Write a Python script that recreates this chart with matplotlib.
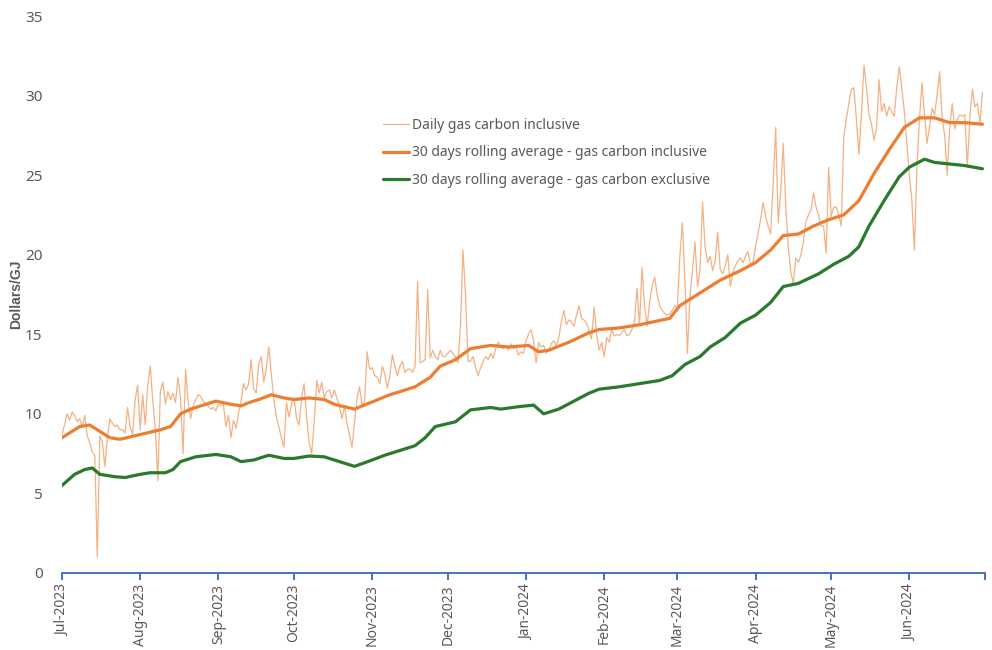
import matplotlib
matplotlib.use("Agg")
import matplotlib.pyplot as plt
import pandas as pd

plt.rcParams["font.family"] = ["Noto Sans", "DejaVu Sans"]

# Daily gas price, carbon inclusive ($/GJ), 1 Jul 2023 - 30 Jun 2024
daily_jul = [8.7, 9.3, 10.0, 9.6, 10.1, 9.9, 9.5, 9.7, 9.2, 9.9, 8.6, 8.2, 7.6, 7.4, 1.0, 8.6,
             8.2, 6.7, 8.5, 9.7, 9.4, 9.2, 9.3, 9.0, 9.0, 8.8, 10.4, 9.2, 8.7, 10.9, 11.8]
daily_aug = [9.0, 11.2, 9.3, 11.8, 13.0, 10.8, 9.0, 5.8, 11.4, 12.0, 10.6, 11.4, 10.9, 11.3, 10.7,
             12.3, 11.0, 7.5, 12.8, 10.8, 9.7, 10.5, 10.9, 11.2, 11.1, 10.8, 10.6, 10.5, 10.3,
             10.4, 10.2]
daily_sep = [10.6, 10.5, 10.6, 9.2, 9.9, 8.5, 9.6, 9.1, 10.0, 10.8, 11.9, 11.5, 11.9, 13.4, 11.6,
             11.3, 13.1, 13.6, 12.0, 12.8, 14.2, 12.5, 10.9, 9.8, 9.2, 8.5, 7.9, 10.7, 9.8, 10.6]
daily_oct = [11.0, 9.7, 9.3, 11.0, 11.9, 9.8, 8.2, 7.5, 9.5, 12.1, 11.3, 12.0, 11.0, 11.4, 11.5,
             11.0, 11.5, 11.0, 10.5, 9.7, 10.5, 9.4, 8.7, 7.9, 9.5, 11.0, 11.7, 10.5, 10.8, 13.9,
             12.8]
daily_nov = [12.9, 12.4, 12.3, 11.9, 13.0, 12.5, 11.6, 12.4, 13.7, 13.0, 12.4, 13.0, 13.3, 12.6,
             12.8, 12.8, 12.6, 13.0, 18.3, 13.2, 13.3, 13.4, 17.8, 13.5, 14.0, 13.6, 13.4, 14.0,
             13.6, 13.6]
daily_dec = [13.8, 14.0, 13.8, 13.6, 13.2, 15.5, 20.3, 17.5, 13.3, 13.3, 13.6, 12.9, 12.4, 12.9,
             13.3, 13.6, 13.4, 13.8, 13.5, 14.1, 14.5, 14.2, 14.1, 14.3, 14.0, 14.4, 14.1, 14.2,
             13.7, 13.9, 13.8]
daily_jan = [14.6, 15.0, 15.3, 14.6, 13.2, 14.5, 14.2, 14.3, 13.8, 14.0, 14.4, 14.6, 14.3, 14.8,
             15.8, 16.5, 15.6, 15.9, 15.8, 15.5, 16.2, 16.8, 16.0, 15.9, 15.7, 15.2, 14.7, 16.7,
             15.0, 14.0, 14.5]
daily_feb = [13.6, 14.8, 14.5, 15.3, 14.9, 15.0, 14.9, 15.1, 15.3, 14.9, 15.0, 15.3, 15.8, 17.9,
             15.6, 19.2, 16.8, 15.5, 17.0, 18.0, 18.6, 17.5, 16.8, 16.5, 16.3, 16.2, 16.3, 16.5,
             16.8]
daily_mar = [16.6, 19.9, 22.0, 18.5, 13.8, 17.4, 19.0, 20.8, 18.0, 19.0, 23.3, 20.5, 19.5, 19.9,
             19.0, 19.6, 21.4, 19.1, 18.8, 19.3, 20.0, 18.0, 18.9, 19.3, 19.6, 19.8, 19.5, 19.9,
             20.2, 19.4, 19.5]
daily_apr = [20.5, 21.3, 22.2, 23.3, 22.4, 21.8, 21.3, 24.5, 28.0, 22.0, 24.0, 27.0, 23.0, 20.5,
             18.9, 18.2, 19.8, 19.5, 20.0, 20.8, 22.1, 22.5, 22.8, 23.9, 23.0, 22.5, 21.8, 21.8,
             20.1, 25.5]
daily_may = [22.4, 23.0, 23.0, 22.5, 21.8, 27.4, 28.5, 29.5, 30.4, 30.5, 28.5, 26.3, 28.8, 31.9,
             30.5, 28.8, 28.2, 27.2, 28.0, 31.0, 29.0, 29.5, 28.7, 29.3, 29.0, 28.7, 30.5, 31.8,
             30.5, 29.0, 27.0]
daily_jun = [25.0, 23.4, 20.3, 25.5, 28.5, 30.8, 28.8, 27.0, 28.0, 29.2, 28.8, 30.0, 31.5, 28.6,
             27.5, 25.0, 28.0, 29.5, 27.9, 28.5, 28.8, 28.7, 28.8, 25.5, 28.6, 30.4, 29.3, 29.5,
             28.3, 30.2]

daily_values = (daily_jul + daily_aug + daily_sep + daily_oct + daily_nov + daily_dec +
                daily_jan + daily_feb + daily_mar + daily_apr + daily_may + daily_jun)
daily_dates = pd.date_range("2023-07-01", "2024-06-30", freq="D")

# 30 day rolling average, carbon inclusive
incl_dates = ["2023-07-01", "2023-07-08", "2023-07-12", "2023-07-16", "2023-07-20", "2023-07-24",
              "2023-08-01", "2023-08-09", "2023-08-13", "2023-08-17", "2023-08-21", "2023-08-25",
              "2023-08-31", "2023-09-06", "2023-09-10", "2023-09-13", "2023-09-17", "2023-09-22",
              "2023-09-27", "2023-10-01", "2023-10-07", "2023-10-13", "2023-10-17", "2023-10-25",
              "2023-11-01", "2023-11-08", "2023-11-18", "2023-11-24", "2023-11-28", "2023-12-04",
              "2023-12-10", "2023-12-18", "2023-12-25", "2024-01-02", "2024-01-06", "2024-01-10",
              "2024-01-18", "2024-01-26", "2024-01-30", "2024-02-07", "2024-02-15", "2024-02-21",
              "2024-02-27", "2024-03-02", "2024-03-10", "2024-03-18", "2024-03-26", "2024-04-01",
              "2024-04-07", "2024-04-12", "2024-04-18", "2024-04-24", "2024-04-30", "2024-05-06",
              "2024-05-12", "2024-05-18", "2024-05-24", "2024-05-30", "2024-06-05", "2024-06-11",
              "2024-06-17", "2024-06-23", "2024-06-30"]
incl_values = [8.5, 9.2, 9.3, 8.9, 8.5, 8.4, 8.7, 9.0, 9.2, 10.0, 10.3, 10.5, 10.8, 10.6, 10.5,
               10.7, 10.9, 11.2, 11.0, 10.9, 11.0, 10.9, 10.6, 10.3, 10.75, 11.2, 11.7, 12.3,
               13.0, 13.4, 14.1, 14.3, 14.2, 14.3, 13.9, 14.0, 14.5, 15.1, 15.3, 15.4, 15.6,
               15.8, 16.0, 16.8, 17.6, 18.4, 19.0, 19.5, 20.3, 21.2, 21.3, 21.8, 22.2, 22.5,
               23.4, 25.1, 26.6, 28.0, 28.6, 28.6, 28.3, 28.3, 28.2]

# 30 day rolling average, carbon exclusive
excl_dates = ["2023-07-01", "2023-07-06", "2023-07-10", "2023-07-13", "2023-07-16", "2023-07-22",
              "2023-07-26", "2023-08-01", "2023-08-05", "2023-08-11", "2023-08-14", "2023-08-17",
              "2023-08-23", "2023-08-31", "2023-09-06", "2023-09-10", "2023-09-15", "2023-09-21",
              "2023-09-27", "2023-10-01", "2023-10-07", "2023-10-13", "2023-10-19", "2023-10-25",
              "2023-11-01", "2023-11-06", "2023-11-12", "2023-11-18", "2023-11-22", "2023-11-26",
              "2023-12-04", "2023-12-10", "2023-12-18", "2023-12-22", "2023-12-29", "2024-01-04",
              "2024-01-08", "2024-01-14", "2024-01-20", "2024-01-26", "2024-01-30", "2024-02-07",
              "2024-02-15", "2024-02-23", "2024-02-28", "2024-03-04", "2024-03-10", "2024-03-14",
              "2024-03-20", "2024-03-26", "2024-04-01", "2024-04-07", "2024-04-12", "2024-04-18",
              "2024-04-26", "2024-05-02", "2024-05-08", "2024-05-12", "2024-05-16", "2024-05-22",
              "2024-05-28", "2024-06-01", "2024-06-07", "2024-06-11", "2024-06-17", "2024-06-23",
              "2024-06-30"]
excl_values = [5.5, 6.2, 6.5, 6.6, 6.2, 6.05, 6.0, 6.2, 6.3, 6.3, 6.5, 7.0, 7.3, 7.45, 7.3, 7.0,
               7.1, 7.4, 7.2, 7.2, 7.35, 7.3, 7.0, 6.7, 7.1, 7.4, 7.7, 8.0, 8.5, 9.2, 9.5, 10.25,
               10.4, 10.3, 10.45, 10.55, 10.0, 10.3, 10.8, 11.3, 11.55, 11.7, 11.9, 12.1, 12.4,
               13.1, 13.6, 14.2, 14.8, 15.7, 16.2, 17.0, 18.0, 18.2, 18.8, 19.4, 19.9, 20.5, 21.8,
               23.4, 24.9, 25.5, 26.0, 25.8, 25.7, 25.6, 25.4]

series_labels = ["Daily gas carbon inclusive",
                 "30 days rolling average - gas carbon inclusive",
                 "30 days rolling average - gas carbon exclusive"]
y_ticks = [0, 5, 10, 15, 20, 25, 30, 35]
month_ticks = pd.date_range("2023-07-01", "2024-07-01", freq="MS")

text_grey = "#595959"
axis_blue = "#4472C4"

fig = plt.figure(figsize=(9.92, 6.5), dpi=100)
ax = fig.add_axes([62 / 992, 1 - 573 / 650, (985 - 62) / 992, (573 - 16) / 650])

ax.plot(daily_dates, daily_values, color="#F4B183", lw=0.9, label=series_labels[0])
ax.plot(pd.to_datetime(incl_dates), incl_values, color="#ED7D31", lw=2.3,
        solid_joinstyle="round", solid_capstyle="round", label=series_labels[1])
ax.plot(pd.to_datetime(excl_dates), excl_values, color="#2A7A2E", lw=2.3,
        solid_joinstyle="round", solid_capstyle="round", label=series_labels[2])

ax.set_xlim(month_ticks[0], month_ticks[-1])
ax.set_ylim(0, 35)
ax.set_yticks(y_ticks)
ax.set_xticks(month_ticks)
ax.set_xticklabels([d.strftime("%b-%Y") for d in month_ticks[:-1]] + [""])

for side in ("top", "right", "left"):
    ax.spines[side].set_visible(False)
ax.spines["bottom"].set_color(axis_blue)
ax.spines["bottom"].set_linewidth(1.4)
ax.tick_params(axis="x", direction="out", length=5, width=1.4, color=axis_blue,
               labelcolor=text_grey, labelsize=10, rotation=90, pad=3)
ax.tick_params(axis="y", length=0, labelcolor=text_grey, labelsize=11, pad=14)

fig.text(16 / 992, 1 - 294 / 650, "Dollars/GJ", rotation=90, ha="center", va="center",
         color=text_grey, fontsize=10, fontweight="bold",
         family=["Liberation Sans", "DejaVu Sans"])

ax.legend(loc="upper left", bbox_to_anchor=(383 / 992, 1 - 118 / 650),
          bbox_transform=fig.transFigure, frameon=False, fontsize=10,
          handlelength=1.9, handletextpad=0.2, labelspacing=0.9,
          borderpad=0, borderaxespad=0, labelcolor=text_grey)

fig.savefig("out.png", dpi=100)
